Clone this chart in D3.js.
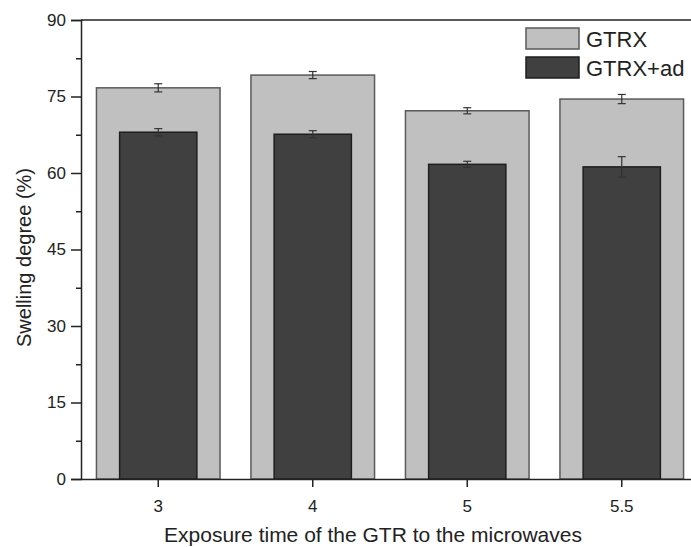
<!DOCTYPE html>
<html>
<head>
<meta charset="utf-8">
<script src="https://cdn.jsdelivr.net/npm/d3@7"></script>
<style>
  body { margin: 0; background: #fff; }
  text { font-family: Arial, "Liberation Sans", sans-serif; fill: #222; }
</style>
</head>
<body>
<div id="graph"></div>
<script>
// Chart data
const categories = ["3", "4", "5", "5.5"]
const gtrx = [76.7, 79.2, 72.2, 74.5]
const gtrxErr = [0.8, 0.7, 0.6, 0.9]
const gtrxAd = [68.0, 67.6, 61.7, 61.2]
const gtrxAdErr = [0.7, 0.7, 0.6, 2.0]
const yTicks = [0, 15, 30, 45, 60, 75, 90]
const seriesNames = ["GTRX", "GTRX+ad"]

const width = 691, height = 547
const margin = { top: 20, left: 81, bottom: 68 }
// the plot runs past the right edge of the picture (it was cropped)
const plotRight = 699

const svg = d3.select('#graph').append('svg')
  .attr('width', width).attr('height', height)

const xScale = d3.scaleBand()
  .domain(categories)
  .range([margin.left, plotRight])

const yScale = d3.scaleLinear()
  .domain([0, 90])
  .range([height - margin.bottom, margin.top])

const step = xScale.step()
const lightW = step * 0.8
const darkW = step * 0.5
const cx = d => xScale(d) + step / 2

// light bars (GTRX)
svg.selectAll('.light').data(categories).enter()
  .append('rect')
  .attr('class', 'light')
  .attr('x', d => cx(d) - lightW / 2)
  .attr('width', lightW)
  .attr('y', (d, i) => yScale(gtrx[i]))
  .attr('height', (d, i) => yScale(0) - yScale(gtrx[i]))
  .style('fill', '#c0c0c0')
  .style('stroke', '#5a5a5a')
  .style('stroke-width', 1.5)

// dark bars (GTRX+ad)
svg.selectAll('.dark').data(categories).enter()
  .append('rect')
  .attr('class', 'dark')
  .attr('x', d => cx(d) - darkW / 2)
  .attr('width', darkW)
  .attr('y', (d, i) => yScale(gtrxAd[i]))
  .attr('height', (d, i) => yScale(0) - yScale(gtrxAd[i]))
  .style('fill', '#404040')
  .style('stroke', '#1e1e1e')
  .style('stroke-width', 1.5)

// error bars
function errorBars(vals, errs, cls) {
  const g = svg.append('g').attr('class', cls)
    .style('stroke', '#333').style('stroke-width', 1.2)
  categories.forEach((c, i) => {
    const x = cx(c)
    const y1 = yScale(vals[i] + errs[i]), y2 = yScale(vals[i] - errs[i])
    g.append('line').attr('x1', x).attr('x2', x).attr('y1', y1).attr('y2', y2)
    g.append('line').attr('x1', x - 4).attr('x2', x + 4).attr('y1', y1).attr('y2', y1)
    g.append('line').attr('x1', x - 4).attr('x2', x + 4).attr('y1', y2).attr('y2', y2)
  })
}
errorBars(gtrx, gtrxErr, 'err-light')
errorBars(gtrxAd, gtrxAdErr, 'err-dark')

// top frame line
svg.append('line')
  .attr('x1', margin.left).attr('x2', plotRight)
  .attr('y1', yScale(90)).attr('y2', yScale(90))
  .style('stroke', '#222').style('stroke-width', 1.5)

// y axis, with minor ticks
svg.append('g').attr('class', 'axis')
  .attr('transform', `translate(${margin.left},0)`)
  .call(d3.axisLeft(yScale).tickValues(yTicks).tickSize(10).tickPadding(5))
svg.append('g').attr('class', 'axis minor')
  .attr('transform', `translate(${margin.left},0)`)
  .call(d3.axisLeft(yScale).tickValues(d3.range(7.5, 90, 15)).tickSize(5).tickFormat(''))
  .select('.domain').remove()

// x axis
svg.append('g').attr('class', 'axis')
  .attr('transform', `translate(0,${yScale(0)})`)
  .call(d3.axisBottom(xScale).tickSize(8).tickPadding(13).tickSizeOuter(0))

svg.selectAll('.axis path, .axis line').style('stroke', '#222').style('stroke-width', 1.5)
svg.selectAll('.axis text').attr('font-size', 17).style('font-size', '17px').style('fill', '#222')
  .attr('font-family', 'Arial, "Liberation Sans", sans-serif')

// axis labels
svg.append('text')
  .attr('transform', `translate(31, ${(margin.top + yScale(0)) / 2 + 8}) rotate(-90)`)
  .style('text-anchor', 'middle')
  .style('font-size', '20px')
  .text('Swelling degree (%)')

svg.append('text')
  .attr('x', 373).attr('y', 542)
  .style('text-anchor', 'middle')
  .style('font-size', '21px')
  .text('Exposure time of the GTR to the microwaves')

// legend
const legend = svg.append('g').attr('transform', 'translate(526,28)')
const legendFill = ['#c0c0c0', '#404040']
const legendStroke = ['#5a5a5a', '#1e1e1e']
seriesNames.forEach((name, i) => {
  legend.append('rect')
    .attr('x', 0).attr('y', i * 29)
    .attr('width', 53).attr('height', 21)
    .style('fill', legendFill[i]).style('stroke', legendStroke[i]).style('stroke-width', 1.5)
  legend.append('text')
    .attr('x', 60).attr('y', i * 29 + 19)
    .style('font-size', '22px')
    .text(name)
})
</script>
</body>
</html>
